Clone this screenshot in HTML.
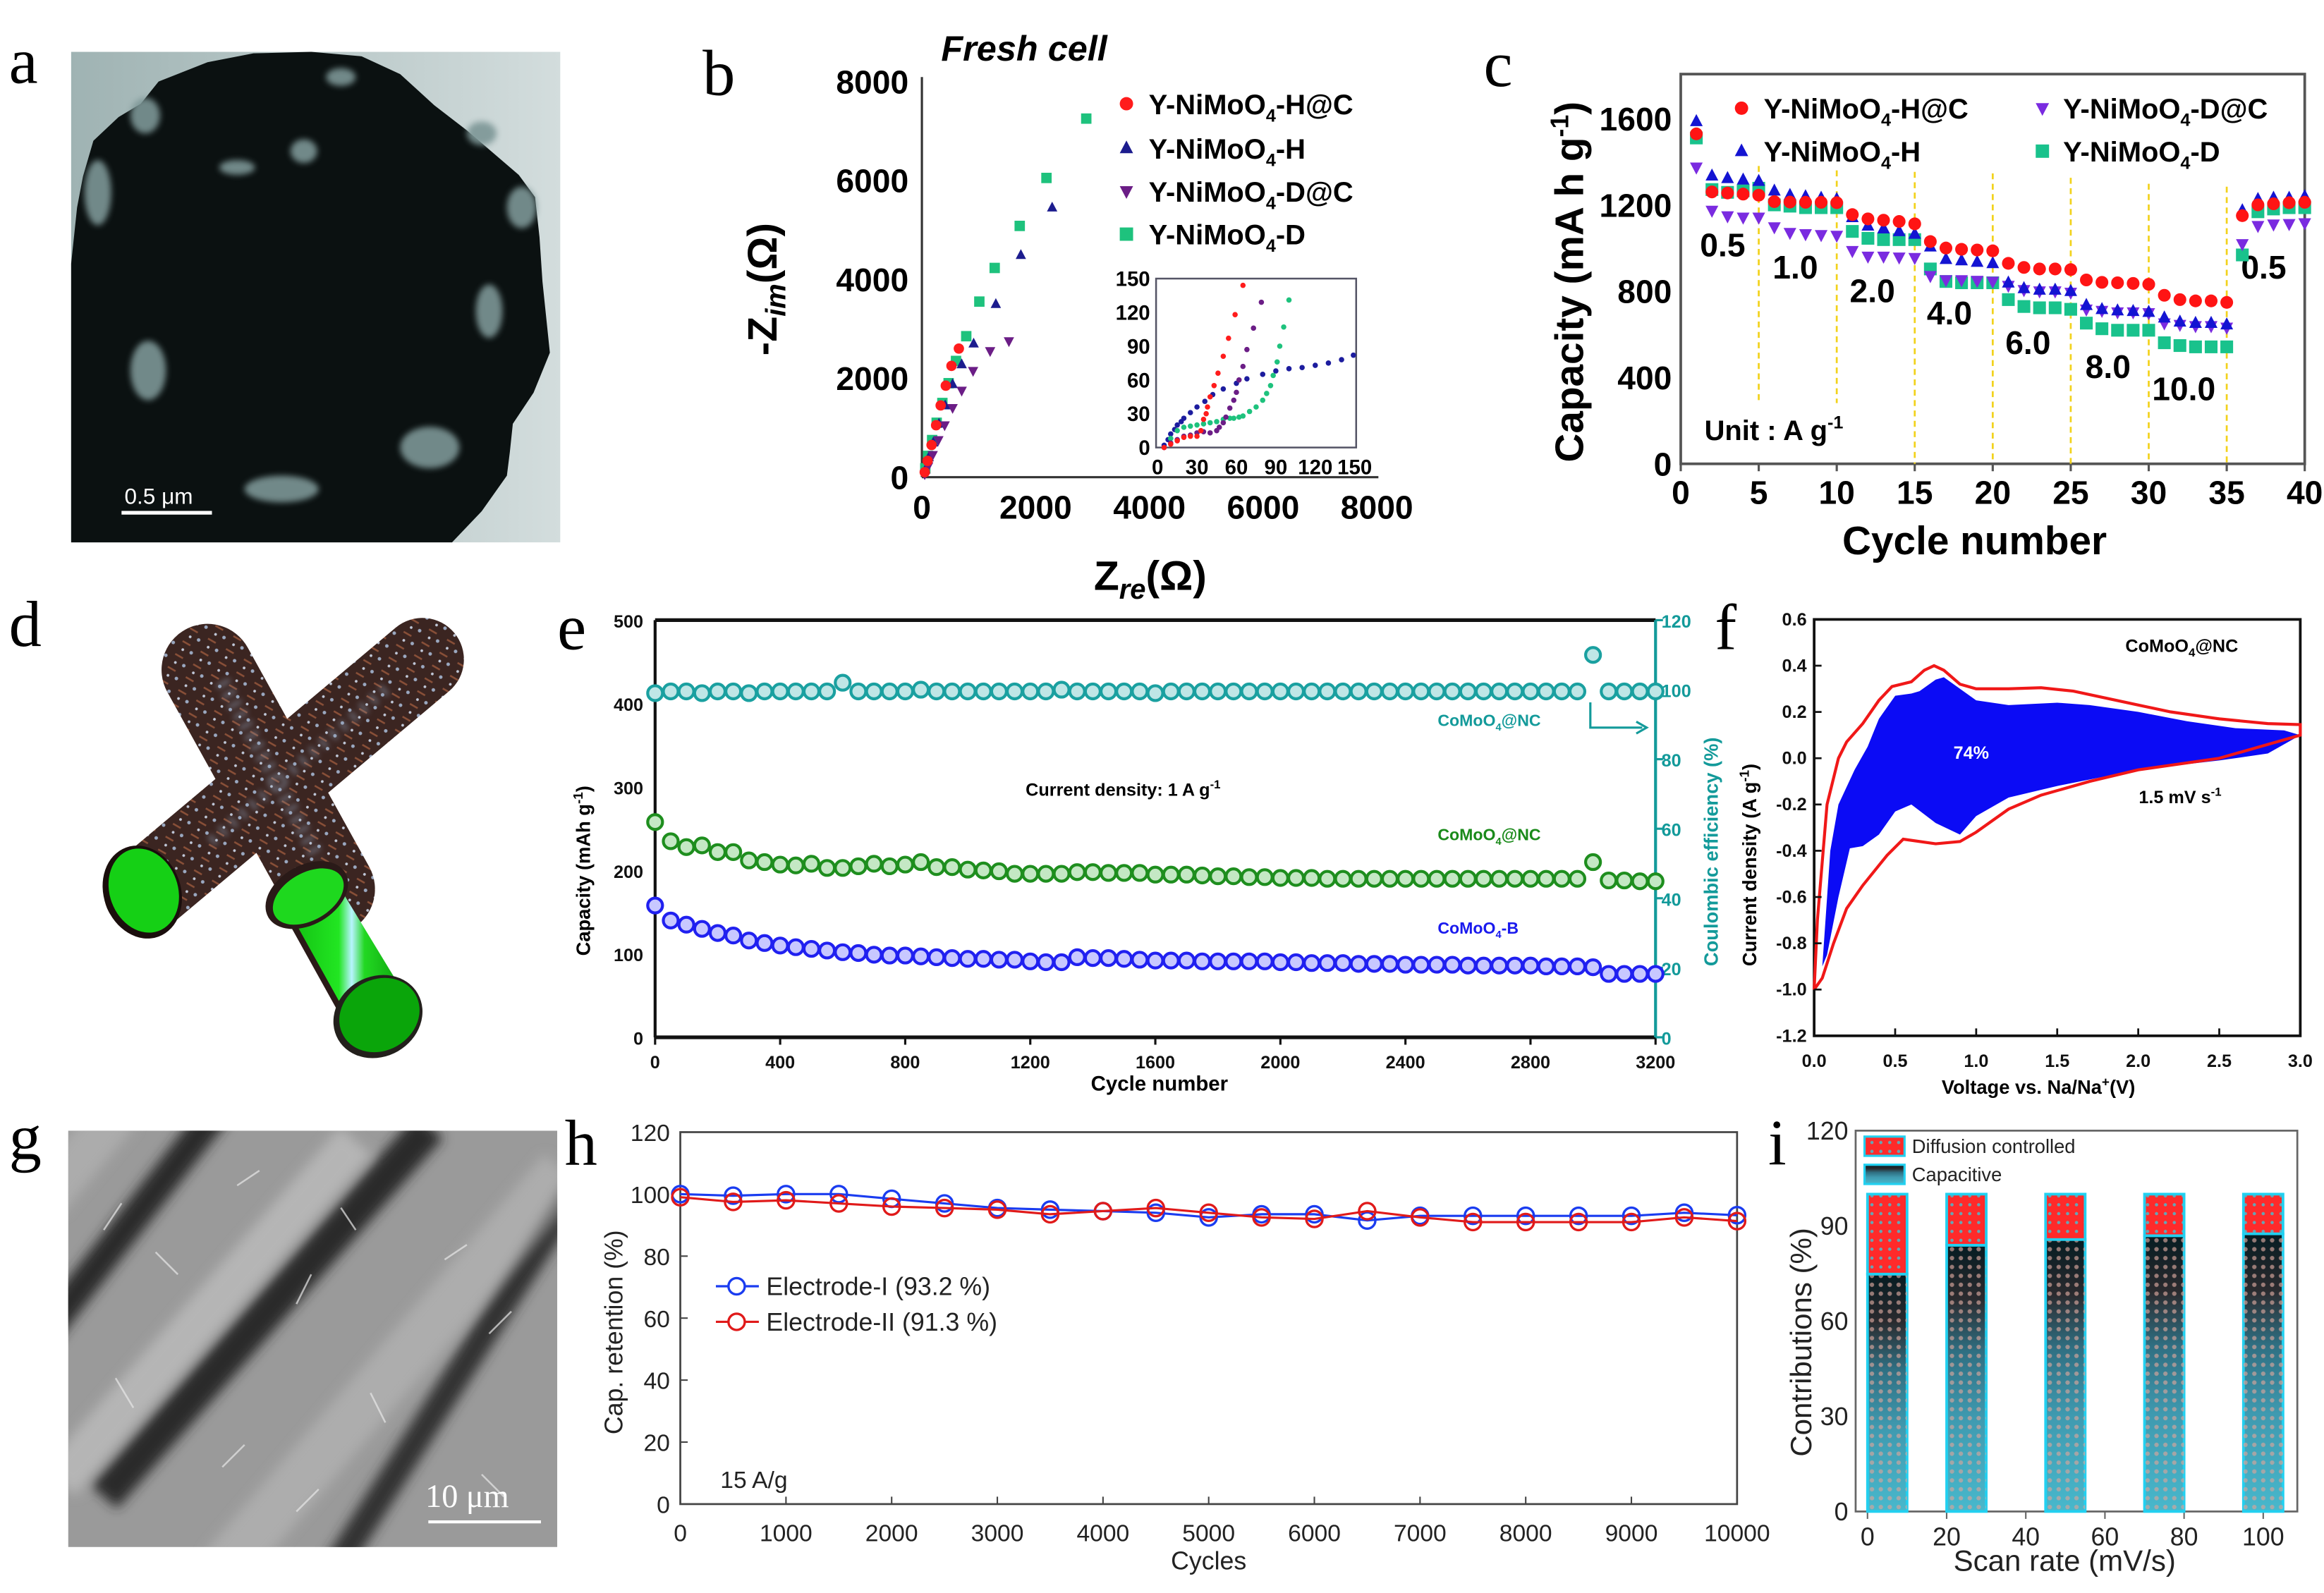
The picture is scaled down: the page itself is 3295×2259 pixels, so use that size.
<!DOCTYPE html>
<html><head><meta charset="utf-8">
<style>
html,body{margin:0;padding:0;background:#fff;}
svg{display:block;}
text{font-family:"Liberation Sans",Arial,sans-serif;}
.serif{font-family:"Liberation Serif","Times New Roman",serif;}
</style></head>
<body>
<svg id="fig" xmlns="http://www.w3.org/2000/svg" width="3295" height="2259" viewBox="0 0 1568 1075" preserveAspectRatio="none">
<defs>
  <linearGradient id="capGrad" x1="0" y1="0" x2="0" y2="1">
    <stop offset="0" stop-color="#061c22"/>
    <stop offset="0.2" stop-color="#2a2a2e"/>
    <stop offset="0.4" stop-color="#2f6f82"/>
    <stop offset="0.65" stop-color="#3f9ab0"/>
    <stop offset="1" stop-color="#48b8cc"/>
  </linearGradient>
  <pattern id="dotsPink" width="6" height="6" patternUnits="userSpaceOnUse">
    <circle cx="3" cy="3" r="1.5" fill="#d4a49c" opacity="0.9"/>
  </pattern>
  <pattern id="dotsCyan" width="6" height="6" patternUnits="userSpaceOnUse">
    <rect width="6" height="6" fill="#ff2a2a"/>
    <circle cx="3" cy="3" r="1.1" fill="#3fc6d8" opacity="0.8"/>
  </pattern>
  <pattern id="tubeTex" width="14" height="10" patternUnits="userSpaceOnUse" patternTransform="rotate(30)">
    <rect width="14" height="10" fill="#3b2521"/>
    <line x1="1" y1="3" x2="7" y2="3" stroke="#8a5038" stroke-width="1.2"/>
    <circle cx="10" cy="7" r="1.2" fill="#9aa8c0"/>
    <circle cx="4" cy="8" r="0.9" fill="#c0c8d8"/>
  </pattern>
  <linearGradient id="bgA" x1="0" y1="0" x2="1" y2="0">
    <stop offset="0" stop-color="#9fb3b3"/><stop offset="1" stop-color="#d3dddd"/>
  </linearGradient>
  <linearGradient id="greenCyl" x1="0" y1="0" x2="1" y2="0">
    <stop offset="0" stop-color="#0fb80f"/><stop offset="0.45" stop-color="#22e622"/>
    <stop offset="0.55" stop-color="#b8f4ff"/><stop offset="0.65" stop-color="#22d822"/>
    <stop offset="1" stop-color="#0a9a0a"/>
  </linearGradient>
  <filter id="blur1"><feGaussianBlur stdDeviation="2"/></filter>
  <filter id="blur3"><feGaussianBlur stdDeviation="4"/></filter>
</defs>

<g class="serif" font-size="44" fill="#000">
  <text x="6" y="56" class="serif">a</text>
  <text x="474" y="64" class="serif">b</text>
  <text x="1001" y="58" class="serif">c</text>
  <text x="6" y="436" class="serif">d</text>
  <text x="376" y="438" class="serif">e</text>
  <text x="1157" y="438" class="serif">f</text>
  <text x="6" y="782" class="serif">g</text>
  <text x="381" y="786" class="serif">h</text>
  <text x="1193" y="786" class="serif">i</text>
</g>

<g>
  <rect x="48" y="35" width="330" height="331" fill="url(#bgA)"/>
  <path d="M107,55 L140,42 L171,36 L210,35 L244,38 L270,50 L293,71 L315,88 L329,100 L350,118 L361,133 L364,160 L366,190 L371,238 L360,265 L346,286 L344,305 L342,321 L325,345 L305,366 L48,366 L48,178 L52,140 L56,119 L63,95 L80,79 L95,70 Z" fill="#0b1111"/>
  <g fill="#7d9696" filter="url(#blur1)" opacity="0.9">
    <ellipse cx="66" cy="130" rx="9" ry="22"/>
    <ellipse cx="100" cy="250" rx="12" ry="20"/>
    <ellipse cx="205" cy="102" rx="9" ry="8"/>
    <ellipse cx="160" cy="113" rx="12" ry="5"/>
    <ellipse cx="190" cy="330" rx="25" ry="9"/>
    <ellipse cx="290" cy="302" rx="20" ry="14"/>
    <ellipse cx="330" cy="210" rx="9" ry="18"/>
    <ellipse cx="352" cy="140" rx="10" ry="14"/>
    <ellipse cx="325" cy="90" rx="10" ry="8"/>
    <ellipse cx="230" cy="52" rx="10" ry="6"/>
    <ellipse cx="98" cy="78" rx="10" ry="12"/>
  </g>
  <line x1="82" y1="346" x2="143" y2="346" stroke="#fff" stroke-width="2.5"/>
  <text x="84" y="340" font-size="15" fill="#fff">0.5 μm</text>
</g>

<g>
  <line x1="285" y1="445" x2="98" y2="602" stroke="url(#tubeTex)" stroke-width="56" stroke-linecap="round"/>
  <ellipse cx="96" cy="602" rx="26" ry="32" transform="rotate(-20 96 602)" fill="#1a0e0c"/>
  <ellipse cx="97" cy="601" rx="23" ry="29" transform="rotate(-20 97 601)" fill="#15d015"/>
  <line x1="140" y1="452" x2="222" y2="600" stroke="url(#tubeTex)" stroke-width="62" stroke-linecap="round"/>
  <g opacity="0.55" filter="url(#blur1)">
    <line x1="150" y1="460" x2="215" y2="580" stroke="#8fa0b8" stroke-width="10" stroke-dasharray="3 5"/>
    <line x1="260" y1="465" x2="140" y2="570" stroke="#8fa0b8" stroke-width="8" stroke-dasharray="3 6"/>
  </g>
  <path d="M190,615 L225,592 L276,676 L240,698 Z" fill="url(#greenCyl)"/>
  <line x1="190" y1="610" x2="240" y2="700" stroke="#2a1a18" stroke-width="4"/>
  <ellipse cx="207" cy="604" rx="30" ry="20" transform="rotate(-30 207 604)" fill="#2a1a18"/>
  <ellipse cx="208" cy="605" rx="26" ry="16" transform="rotate(-30 208 605)" fill="#1ed81e"/>
  <ellipse cx="255" cy="686" rx="31" ry="27" transform="rotate(-30 255 686)" fill="#23201c"/>
  <ellipse cx="256" cy="685" rx="28" ry="24" transform="rotate(-30 256 685)" fill="#0aa50a"/>
</g>

<g>
  <clipPath id="clipG"><rect x="46" y="763" width="330" height="281"/></clipPath>
  <g clip-path="url(#clipG)">
    <rect x="46" y="763" width="330" height="281" fill="#9a9a9a"/>
    <g filter="url(#blur3)">
      <line x1="30" y1="900" x2="150" y2="745" stroke="#2a2a2a" stroke-width="20"/>
      <line x1="70" y1="1010" x2="290" y2="760" stroke="#2c2c2c" stroke-width="24"/>
      <line x1="225" y1="1060" x2="390" y2="800" stroke="#303030" stroke-width="18"/>
      <line x1="40" y1="1000" x2="240" y2="770" stroke="#c8c8c8" stroke-width="28" opacity="0.6"/>
      <line x1="150" y1="1060" x2="380" y2="790" stroke="#c0c0c0" stroke-width="34" opacity="0.5"/>
      <line x1="30" y1="810" x2="80" y2="750" stroke="#b8b8b8" stroke-width="30" opacity="0.6"/>
    </g>
    <g stroke="#e8e8e8" stroke-width="1.2" opacity="0.7">
      <line x1="70" y1="830" x2="82" y2="812"/><line x1="120" y1="860" x2="105" y2="845"/>
      <line x1="160" y1="800" x2="175" y2="790"/><line x1="200" y1="880" x2="210" y2="860"/>
      <line x1="240" y1="830" x2="230" y2="815"/><line x1="300" y1="850" x2="315" y2="840"/>
      <line x1="90" y1="950" x2="78" y2="930"/><line x1="150" y1="990" x2="165" y2="975"/>
      <line x1="260" y1="960" x2="250" y2="940"/><line x1="330" y1="900" x2="345" y2="885"/>
      <line x1="200" y1="1020" x2="215" y2="1005"/><line x1="340" y1="1010" x2="325" y2="995"/>
    </g>
  </g>
  <line x1="289" y1="1027" x2="365" y2="1027" stroke="#fff" stroke-width="2"/>
  <text x="287" y="1017" class="serif" font-size="22" fill="#fff">10 μm</text>
</g>

<g font-weight="bold" fill="#000">
  <text x="635" y="41" font-size="24" font-style="italic">Fresh cell</text>
  <text x="0" y="0" font-size="28" transform="translate(524,240) rotate(-90)">-Z<tspan font-size="19" font-style="italic" dy="6">im</tspan><tspan dy="-6">(Ω)</tspan></text>
  <text x="738" y="398" font-size="28">Z<tspan font-size="19" font-style="italic" dy="6">re</tspan><tspan dy="-6">(Ω)</tspan></text>
  <g font-size="19">
    <text x="775" y="77">Y-NiMoO<tspan font-size="12" dy="5">4</tspan><tspan dy="-5">-H@C</tspan></text>
    <text x="775" y="107">Y-NiMoO<tspan font-size="12" dy="5">4</tspan><tspan dy="-5">-H</tspan></text>
    <text x="775" y="136">Y-NiMoO<tspan font-size="12" dy="5">4</tspan><tspan dy="-5">-D@C</tspan></text>
    <text x="775" y="165">Y-NiMoO<tspan font-size="12" dy="5">4</tspan><tspan dy="-5">-D</tspan></text>
  </g>
</g>

<g font-weight="bold" fill="#000">
  <text x="0" y="0" font-size="27" transform="translate(1068,312) rotate(-90)">Capacity (mA h g<tspan font-size="17" dy="-10">-1</tspan><tspan dy="10">)</tspan></text>
  <text x="1243" y="374" font-size="27">Cycle number</text>
  <g font-size="19">
    <text x="1190" y="80">Y-NiMoO<tspan font-size="12" dy="5">4</tspan><tspan dy="-5">-H@C</tspan></text>
    <text x="1190" y="109">Y-NiMoO<tspan font-size="12" dy="5">4</tspan><tspan dy="-5">-H</tspan></text>
    <text x="1392" y="80">Y-NiMoO<tspan font-size="12" dy="5">4</tspan><tspan dy="-5">-D@C</tspan></text>
    <text x="1392" y="109">Y-NiMoO<tspan font-size="12" dy="5">4</tspan><tspan dy="-5">-D</tspan></text>
    <text x="1150" y="297">Unit : A g<tspan font-size="12" dy="-8">-1</tspan></text>
  </g>
  <g font-size="22">
    <text x="1147" y="173">0.5</text>
    <text x="1196" y="188">1.0</text>
    <text x="1248" y="204">2.0</text>
    <text x="1300" y="219">4.0</text>
    <text x="1353" y="239">6.0</text>
    <text x="1407" y="255">8.0</text>
    <text x="1452" y="270">10.0</text>
    <text x="1512" y="188">0.5</text>
  </g>
</g>

<g font-weight="bold" font-size="12">
  <text x="0" y="0" font-size="13" transform="translate(398,645) rotate(-90)" fill="#000">Capacity (mAh g<tspan font-size="9" dy="-5">-1</tspan><tspan dy="5">)</tspan></text>
  <text x="0" y="0" font-size="13" transform="translate(1159,652) rotate(-90)" fill="#139a9a">Coulombic efficiency (%)</text>
  <text x="736" y="736" font-size="14" fill="#000">Cycle number</text>
  <text x="692" y="537" fill="#000">Current density: 1 A g<tspan font-size="8" dy="-5">-1</tspan></text>
  <text x="970" y="490" font-size="11" fill="#139a9a">CoMoO<tspan font-size="7" dy="3">4</tspan><tspan dy="-3">@NC</tspan></text>
  <text x="970" y="567" font-size="11" fill="#1a8a1a">CoMoO<tspan font-size="7" dy="3">4</tspan><tspan dy="-3">@NC</tspan></text>
  <text x="970" y="630" font-size="11" fill="#1a1aee">CoMoO<tspan font-size="7" dy="3">4</tspan><tspan dy="-3">-B</tspan></text>
  <path d="M1073,474 L1073,491 L1108,491" fill="none" stroke="#139a9a" stroke-width="1.5"/>
  <path d="M1104,487 L1111,491 L1104,495" fill="none" stroke="#139a9a" stroke-width="1.5"/>
</g>

<g font-weight="bold" fill="#000">
  <text x="0" y="0" font-size="13" transform="translate(1185,652) rotate(-90)">Current density (A g<tspan font-size="9" dy="-5">-1</tspan><tspan dy="5">)</tspan></text>
  <text x="1310" y="738" font-size="13">Voltage vs. Na/Na<tspan font-size="9" dy="-5">+</tspan><tspan dy="5">(V)</tspan></text>
  <text x="1434" y="440" font-size="12">CoMoO<tspan font-size="8" dy="3">4</tspan><tspan dy="-3">@NC</tspan></text>
  <text x="1443" y="542" font-size="12">1.5 mV s<tspan font-size="8" dy="-5">-1</tspan></text>
</g>

<g fill="#222">
  <text x="0" y="0" font-size="17" transform="translate(420,968) rotate(-90)">Cap. retention (%)</text>
  <text x="790" y="1059" font-size="17">Cycles</text>
  <text x="486" y="1004" font-size="16">15 A/g</text>
  <text x="517" y="874" font-size="17">Electrode-I  (93.2 %)</text>
  <text x="517" y="898" font-size="17">Electrode-II (91.3 %)</text>
</g>

<g fill="#222">
  <text x="0" y="0" font-size="20" transform="translate(1222,983) rotate(-90)">Contributions (%)</text>
  <text x="1318" y="1060" font-size="20">Scan rate (mV/s)</text>
  <text x="1290" y="778" font-size="13">Diffusion controlled</text>
  <text x="1290" y="797" font-size="13">Capacitive</text>
</g>

<g id="plots"></g>
</svg>

<script>
// Panel b: Nyquist (ohm)
const bRedX = [650, 520, 420, 330, 250, 170, 100, 50];
const bRedY = [2600, 2250, 1850, 1450, 1050, 650, 330, 100];
const bBlueX = [2290, 1740, 1300, 910, 700, 540, 410, 300, 200, 120, 60];
const bBlueY = [5450, 4490, 3500, 2700, 2280, 1880, 1450, 1080, 700, 400, 150];
const bPurpleX = [1530, 1200, 900, 700, 540, 400, 290, 190, 110, 50];
const bPurpleY = [2750, 2550, 2150, 1750, 1400, 1050, 750, 450, 220, 60];
const bGreenX = [2890, 2190, 1720, 1280, 1010, 780, 600, 470, 360, 260, 180, 110, 60];
const bGreenY = [7250, 6050, 5080, 4230, 3550, 2850, 2350, 1900, 1500, 1100, 750, 430, 180];
const bTicks = [0, 2000, 4000, 6000, 8000];
const inRedX = [5, 10, 15, 20, 25, 30, 33, 35, 37, 38, 40, 43, 46, 50, 54, 59, 65];
const inRedY = [0, 3, 6, 9, 10, 10, 15, 25, 30, 36, 45, 55, 66, 81, 97, 118, 144];
const inPurpleX = [5, 10, 15, 20, 25, 30, 35, 40, 45, 47, 50, 52, 55, 58, 60, 62, 65, 68, 73, 79];
const inPurpleY = [0, 4, 7, 10, 11, 13, 14, 13, 15, 18, 22, 27, 35, 42, 49, 60, 72, 87, 106, 129];
const inGreenX = [10, 15, 20, 25, 30, 35, 40, 45, 50, 55, 58, 62, 65, 70, 75, 80, 83, 86, 88, 91, 93, 96, 100];
const inGreenY = [8, 15, 18, 19, 20, 21, 22, 23, 25, 26, 26, 27, 28, 32, 36, 42, 48, 55, 64, 76, 90, 107, 131];
const inBlueX = [5, 8, 10, 13, 15, 18, 20, 25, 30, 36, 42, 50, 60, 68, 80, 90, 100, 110, 120, 130, 140, 149];
const inBlueY = [2, 7, 12, 16, 20, 23, 26, 31, 36, 41, 47, 52, 57, 61, 65, 68, 70, 71, 73, 75, 78, 82];
const inTicks = [0, 30, 60, 90, 120, 150];

// Panel c
const cCycles = [1,2,3,4,5,6,7,8,9,10,11,12,13,14,15,16,17,18,19,20,21,22,23,24,25,26,27,28,29,30,31,32,33,34,35,36,37,38,39,40];
const cRed = [1529,1260,1255,1250,1245,1215,1213,1212,1212,1210,1155,1135,1129,1123,1112,1030,1000,994,991,987,929,910,903,903,900,852,841,839,836,832,781,761,755,755,748,1150,1200,1205,1210,1212];
const cBlue = [1587,1335,1323,1316,1310,1265,1245,1239,1232,1226,1142,1103,1090,1077,1065,1006,948,942,935,929,839,813,806,806,800,735,716,710,707,703,677,658,652,652,645,1174,1226,1232,1232,1239];
const cPurple = [1374,1174,1148,1142,1142,1097,1071,1065,1061,1058,987,961,961,957,955,871,852,852,849,845,826,806,800,800,794,716,710,703,703,699,652,645,639,639,632,1019,1103,1110,1112,1116];
const cGreen = [1510,1271,1258,1265,1277,1200,1194,1187,1187,1187,1077,1045,1039,1039,1039,903,845,839,839,839,761,729,723,723,716,652,626,619,619,619,561,548,542,542,542,968,1168,1181,1187,1187];
const cRateChanges = [5, 10, 15, 20, 25, 30, 35];
const cXTicks = [0, 5, 10, 15, 20, 25, 30, 35, 40];
const cYTicks = [0, 400, 800, 1200, 1600];

// Panel e
const eGreen = [258,235,228,230,222,222,212,210,207,206,208,203,203,205,208,205,207,210,204,204,201,200,199,196,196,196,196,198,198,197,197,197,195,195,195,194,193,193,192,192,191,191,191,190,190,190,190,190,190,190,190,190,190,190,190,190,190,190,190,190,210,188,188,187,187];
const eBlue = [158,140,135,130,125,122,116,113,110,108,106,104,102,101,99,98,98,97,96,95,94,94,93,93,91,90,90,96,95,95,94,93,92,92,92,91,91,91,91,91,90,90,89,89,89,88,88,88,87,87,87,87,86,86,86,86,86,85,85,85,84,76,76,76,76];
const eCE = [99,99.5,99.5,99,99.5,99.5,99,99.5,99.5,99.5,99.5,99.5,102,99.5,99.5,99.5,99.5,100,99.5,99.5,99.5,99.5,99.5,99.5,99.5,99.5,100,99.5,99.5,99.5,99.5,99.5,99,99.5,99.5,99.5,99.5,99.5,99.5,99.5,99.5,99.5,99.5,99.5,99.5,99.5,99.5,99.5,99.5,99.5,99.5,99.5,99.5,99.5,99.5,99.5,99.5,99.5,99.5,99.5,110,99.5,99.5,99.5,99.5];
const eCycleStep = 50;
const eXTicks = [0, 400, 800, 1200, 1600, 2000, 2400, 2800, 3200];
const eYTicks = [0, 100, 200, 300, 400, 500];
const eY2Ticks = [0, 20, 40, 60, 80, 100, 120];

// Panel f
const fRedV = [0.0,0.02,0.08,0.15,0.2,0.3,0.4,0.48,0.6,0.68,0.74,0.8,0.9,1.0,1.2,1.4,1.6,1.8,2.0,2.2,2.5,2.8,3.0,3.0,2.5,2.0,1.7,1.4,1.2,1.0,0.9,0.75,0.55,0.45,0.3,0.2,0.12,0.05,0.0];
const fRedI = [-1.0,-0.7,-0.2,0.0,0.07,0.15,0.25,0.31,0.33,0.38,0.40,0.38,0.32,0.30,0.30,0.305,0.29,0.26,0.23,0.2,0.17,0.15,0.145,0.1,0.0,-0.05,-0.1,-0.16,-0.22,-0.32,-0.36,-0.37,-0.35,-0.42,-0.55,-0.65,-0.8,-0.95,-1.0];
const fBlueV = [0.05,0.1,0.15,0.25,0.33,0.4,0.5,0.6,0.65,0.75,0.8,0.9,1.0,1.2,1.5,1.7,2.0,2.3,2.6,2.9,3.0,2.8,2.5,2.0,1.5,1.2,1.0,0.9,0.75,0.6,0.5,0.4,0.3,0.22,0.15,0.08];
const fBlueI = [-0.9,-0.4,-0.2,-0.05,0.05,0.17,0.27,0.28,0.29,0.34,0.35,0.30,0.25,0.23,0.24,0.23,0.2,0.16,0.13,0.12,0.1,0.02,-0.01,-0.05,-0.12,-0.17,-0.25,-0.33,-0.28,-0.2,-0.23,-0.33,-0.38,-0.39,-0.6,-0.85];
const fXTicks = [0.0, 0.5, 1.0, 1.5, 2.0, 2.5, 3.0];
const fYTicks = [0.6, 0.4, 0.2, 0.0, -0.2, -0.4, -0.6, -0.8, -1.0, -1.2];

// Panel h
const hCycles = [0,500,1000,1500,2000,2500,3000,3500,4000,4500,5000,5500,6000,6500,7000,7500,8000,8500,9000,9500,10000];
const hElectrode1 = [100,99.5,100,100,98.5,97,95.5,95,94.5,94,92.5,93.5,93.5,91.5,93,93,93,93,93,94,93.2];
const hElectrode2 = [99,97.5,98,97,96,95.5,95,93.5,94.5,95.5,94,92.5,92,94.5,92.5,91,91,91,91,92.5,91.3];
const hXTicks = [0,1000,2000,3000,4000,5000,6000,7000,8000,9000,10000];
const hYTicks = [0,20,40,60,80,100,120];

// Panel i
const iScanRates = [5, 25, 50, 75, 100];
const iCapacitive = [74.8, 83.9, 85.7, 86.9, 87.5];
const iDiffusion = [25.2, 16.1, 14.3, 13.1, 12.5];
const iXTicks = [0, 20, 40, 60, 80, 100];
const iYTicks = [0, 30, 60, 90, 120];

const NS = 'http://www.w3.org/2000/svg';
const root = document.getElementById('plots');
function mk(parent, tag, attrs) {
  const e = document.createElementNS(NS, tag);
  for (const k in attrs) e.setAttribute(k, attrs[k]);
  parent.appendChild(e);
  return e;
}
function marker(parent, type, x, y, s, fill, stroke) {
  let e;
  if (type === 'circle') e = mk(parent, 'circle', {cx: x, cy: y, r: s, fill: fill, stroke: stroke || 'none'});
  else if (type === 'square') e = mk(parent, 'rect', {x: x - s, y: y - s, width: 2 * s, height: 2 * s, fill: fill});
  else if (type === 'up') e = mk(parent, 'path', {d: `M${x},${y - s * 1.15} L${x + s},${y + s * 0.75} L${x - s},${y + s * 0.75} Z`, fill: fill});
  else e = mk(parent, 'path', {d: `M${x},${y + s * 1.15} L${x + s},${y - s * 0.75} L${x - s},${y - s * 0.75} Z`, fill: fill});
  return e;
}
function label(parent, x, y, str, size, anchor, weight, color) {
  const t = mk(parent, 'text', {x: x, y: y, 'font-size': size, 'text-anchor': anchor, 'font-weight': weight, fill: color});
  t.textContent = str;
  return t;
}

// PANEL B
const gB = mk(root, 'g', {});


const bx = v => 622 + v / 8000 * 307;
const by = v => 322 - v / 8000 * 267;
const bAxY = mk(gB, 'line', {x1: 622, y1: 52, x2: 622, y2: 322, stroke: '#333', 'stroke-width': 1.5});


const bAxX = mk(gB, 'line', {x1: 622, y1: 322, x2: 930, y2: 322, stroke: '#333', 'stroke-width': 1.5});


bTicks.forEach(v => {
  const ty = label(gB, 613, by(v) + 8, String(v), 22, 'end', 'bold', '#000');
  
  
  const tx = label(gB, bx(v), 350, String(v), 22, 'middle', 'bold', '#000');
  
  
});
const bSeries = [
  {xs: bGreenX, ys: bGreenY, type: 'square', c: '#1ec27d', n: 'b-point-d'},
  {xs: bBlueX, ys: bBlueY, type: 'up', c: '#1c1c8e', n: 'b-point-h'},
  {xs: bPurpleX, ys: bPurpleY, type: 'down', c: '#6b1d86', n: 'b-point-dc'},
  {xs: bRedX, ys: bRedY, type: 'circle', c: '#ff1c1c', n: 'b-point-hc'}
];
bSeries.forEach(s => {
  s.xs.forEach((xv, i) => {
    const m = marker(gB, s.type, bx(xv), by(s.ys[i]), 3.5, s.c);
    
    
  });
});
[['circle', '#ff1c1c', 70], ['up', '#1c1c8e', 100], ['down', '#6b1d86', 129], ['square', '#1ec27d', 158]].forEach(l => {
  const m = marker(gB, l[0], 760, l[2], 4.5, l[1]);
  
  
});
const ix = v => 781 + v / 150 * 133;
const iy = v => 302 - v / 150 * 114;
const inBox = mk(gB, 'rect', {x: 780, y: 188, width: 135, height: 114, fill: '#fff', stroke: '#556', 'stroke-width': 1.2});


inTicks.forEach(v => {
  const a = label(gB, 776, iy(v) + 5, String(v), 14, 'end', 'bold', '#000');
  
  
  const b = label(gB, ix(v), 320, String(v), 14, 'middle', 'bold', '#000');
  
  
});
[{xs: inBlueX, ys: inBlueY, c: '#1c1c9e', n: 'b-inset-point-h'},
 {xs: inGreenX, ys: inGreenY, c: '#1ec27d', n: 'b-inset-point-d'},
 {xs: inPurpleX, ys: inPurpleY, c: '#6b1d86', n: 'b-inset-point-dc'},
 {xs: inRedX, ys: inRedY, c: '#ff1c1c', n: 'b-inset-point-hc'}].forEach(s => {
  s.xs.forEach((xv, i) => {
    const m = marker(gB, 'circle', ix(xv), iy(s.ys[i]), 1.8, s.c);
    
    
  });
});

// PANEL C
const gC = mk(root, 'g', {});


const cx = v => 1134 + v / 40 * 421;
const cy = v => 313 - v / 1600 * 233;
const cFrame = mk(gC, 'rect', {x: 1134, y: 50, width: 421, height: 263, fill: 'none', stroke: '#555', 'stroke-width': 1.8});


const cLineTops = [112, 115, 116, 117, 120, 124, 126];
cRateChanges.forEach((k, i) => {
  const l = mk(gC, 'line', {x1: cx(k), x2: cx(k), y1: cLineTops[i], y2: (k <= 10 ? 272 : 313), stroke: '#f2d21c', 'stroke-width': 1.3, 'stroke-dasharray': '4 3'});
  
  
});
cXTicks.forEach(v => {
  const t = label(gC, cx(v), 340, String(v), 22, 'middle', 'bold', '#000');
  
  
  const tk = mk(gC, 'line', {x1: cx(v), x2: cx(v), y1: 313, y2: 318, stroke: '#555', 'stroke-width': 1.5});
  
  
});
cYTicks.forEach(v => {
  const t = label(gC, 1128, cy(v) + 8, String(v), 22, 'end', 'bold', '#000');
  
  
});
[{v: cGreen, t: 'square', c: '#19c28c', n: 'c-point-d'},
 {v: cPurple, t: 'down', c: '#7a2be0', n: 'c-point-dc'},
 {v: cBlue, t: 'up', c: '#1414d2', n: 'c-point-h'},
 {v: cRed, t: 'circle', c: '#ff1414', n: 'c-point-hc'}].forEach(s => {
  s.v.forEach((val, i) => {
    const m = marker(gC, s.t, cx(cCycles[i]), cy(val), 4.3, s.c);
    
    
  });
});
[['circle', '#ff1414', 1175, 73], ['up', '#1414d2', 1175, 102], ['down', '#7a2be0', 1378, 73], ['square', '#19c28c', 1378, 102]].forEach(l => {
  const m = marker(gC, l[0], l[2], l[3], 4.5, l[1]);
  
  
});

// PANEL E
const gE = mk(root, 'g', {});


const ex = v => 442 + v / 3200 * 675;
const eyL = v => 700 - v / 500 * 281.5;
const eyR = v => 700 - v / 120 * 281.5;
const eTop = mk(gE, 'line', {x1: 442, y1: 418.5, x2: 1117, y2: 418.5, stroke: '#111', 'stroke-width': 2.5});


const eBot = mk(gE, 'line', {x1: 442, y1: 700, x2: 1117, y2: 700, stroke: '#111', 'stroke-width': 2.5});


const eLeft = mk(gE, 'line', {x1: 442, y1: 418.5, x2: 442, y2: 700, stroke: '#111', 'stroke-width': 2});


const eRight = mk(gE, 'line', {x1: 1117, y1: 418.5, x2: 1117, y2: 700, stroke: '#139a9a', 'stroke-width': 2});


eXTicks.forEach(v => {
  const t = label(gE, ex(v), 721, String(v), 12, 'middle', 'bold', '#111');
  
  
  const tk = mk(gE, 'line', {x1: ex(v), x2: ex(v), y1: 700, y2: 705, stroke: '#111', 'stroke-width': 1.5});
  
  
});
eYTicks.forEach(v => {
  const t = label(gE, 434, eyL(v) + 5, String(v), 12, 'end', 'bold', '#111');
  
  
});
eY2Ticks.forEach(v => {
  const t = label(gE, 1121, eyR(v) + 5, String(v), 12, 'start', 'bold', '#139a9a');
  
  
  const tk = mk(gE, 'line', {x1: 1117, x2: 1122, y1: eyR(v), y2: eyR(v), stroke: '#139a9a', 'stroke-width': 1.5});
  
  
});
[{v: eCE, f: eyR, c: '#1aa0a0', fill: '#bfe6e6', n: 'e-point-ce'},
 {v: eGreen, f: eyL, c: '#1e8e1e', fill: '#c4e8c4', n: 'e-point-nc'},
 {v: eBlue, f: eyL, c: '#2020f0', fill: '#c8c8ff', n: 'e-point-b'}].forEach(s => {
  s.v.forEach((val, i) => {
    const m = marker(gE, 'circle', ex(i * eCycleStep), s.f(val), 5, s.fill, s.c);
    m.setAttribute('stroke-width', 2);
    
    
  });
});

// PANEL F
const gF = mk(root, 'g', {});


const fx = v => 1224 + v / 3 * 328;
const fy = v => 418 + (0.6 - v) / 1.8 * 281;
const fFrame = mk(gF, 'rect', {x: 1224, y: 418, width: 328, height: 281, fill: 'none', stroke: '#111', 'stroke-width': 1.8});


const fBlueD = fBlueV.map((v, i) => (i ? 'L' : 'M') + fx(v).toFixed(1) + ',' + fy(fBlueI[i]).toFixed(1)).join(' ') + ' Z';
const fBlue = mk(gF, 'path', {d: fBlueD, fill: '#0b0bf5', stroke: 'none'});


const fRedD = fRedV.map((v, i) => (i ? 'L' : 'M') + fx(v).toFixed(1) + ',' + fy(fRedI[i]).toFixed(1)).join(' ');
const fRed = mk(gF, 'path', {d: fRedD, fill: 'none', stroke: '#f01818', 'stroke-width': 2});


const f74 = label(gF, 1330, 512, '74%', 12, 'middle', 'bold', '#fff');


fXTicks.forEach(v => {
  const t = label(gF, fx(v), 720, v.toFixed(1), 12, 'middle', 'bold', '#111');
  
  
  const tk = mk(gF, 'line', {x1: fx(v), x2: fx(v), y1: 699, y2: 694, stroke: '#111', 'stroke-width': 1.3});
  
  
});
fYTicks.forEach(v => {
  const t = label(gF, 1219, fy(v) + 4, v.toFixed(1), 12, 'end', 'bold', '#111');
  
  
  const tk = mk(gF, 'line', {x1: 1224, x2: 1229, y1: fy(v), y2: fy(v), stroke: '#111', 'stroke-width': 1.3});
  
  
});

// PANEL H
const gH = mk(root, 'g', {});


const hx = v => 459 + v / 10000 * 713;
const hy = v => 1015 - v / 120 * 251;
const hFrame = mk(gH, 'rect', {x: 459, y: 764, width: 713, height: 251, fill: 'none', stroke: '#444', 'stroke-width': 1.3});


hXTicks.forEach(v => {
  const t = label(gH, hx(v), 1040, String(v), 16, 'middle', 'normal', '#222');
  
  
  const tk = mk(gH, 'line', {x1: hx(v), x2: hx(v), y1: 1015, y2: 1010, stroke: '#444', 'stroke-width': 1});
  
  
});
hYTicks.forEach(v => {
  const t = label(gH, 452, hy(v) + 6, String(v), 16, 'end', 'normal', '#222');
  
  
  const tk = mk(gH, 'line', {x1: 459, x2: 464, y1: hy(v), y2: hy(v), stroke: '#444', 'stroke-width': 1});
  
  
});
[{v: hElectrode1, c: '#1a3cf0', n: 'electrode-1'}, {v: hElectrode2, c: '#e01a1a', n: 'electrode-2'}].forEach(s => {
  const d = s.v.map((val, i) => (i ? 'L' : 'M') + hx(hCycles[i]).toFixed(1) + ',' + hy(val).toFixed(1)).join(' ');
  const line = mk(gH, 'path', {d: d, fill: 'none', stroke: s.c, 'stroke-width': 1.5});
  
  
  s.v.forEach((val, i) => {
    const m = marker(gH, 'circle', hx(hCycles[i]), hy(val), 5.5, 'none', s.c);
    m.setAttribute('stroke-width', 1.6);
    
    
  });
});
[['#1a3cf0', 868], ['#e01a1a', 892]].forEach(l => {
  const ln = mk(gH, 'line', {x1: 483, x2: 512, y1: l[1], y2: l[1], stroke: l[0], 'stroke-width': 1.5});
  
  
  const m = marker(gH, 'circle', 497, l[1], 5.5, '#fff', l[0]);
  m.setAttribute('stroke-width', 1.6);
  
  
});

// PANEL I
const gI = mk(root, 'g', {});


const ixs = v => 1260 + v / 100 * 267;
const iys = v => 1020 - v / 120 * 257;
const iFrame = mk(gI, 'rect', {x: 1252, y: 763, width: 298, height: 257, fill: 'none', stroke: '#666', 'stroke-width': 1.3});


iXTicks.forEach(v => {
  const t = label(gI, ixs(v), 1043, String(v), 17, 'middle', 'normal', '#222');
  
  
  const tk = mk(gI, 'line', {x1: ixs(v), x2: ixs(v), y1: 1020, y2: 1025, stroke: '#666', 'stroke-width': 1});
  
  
});
iYTicks.forEach(v => {
  const t = label(gI, 1247, iys(v) + 6, String(v), 17, 'end', 'normal', '#222');
  
  
});
const iBarW = 10;
iScanRates.forEach((r, i) => {
  const x0 = ixs(r - iBarW / 2), w = ixs(r + iBarW / 2) - x0;
  const cap = mk(gI, 'rect', {x: x0, y: iys(iCapacitive[i]), width: w, height: iys(0) - iys(iCapacitive[i]), fill: 'url(#capGrad)', stroke: '#22d0f0', 'stroke-width': 1.8});
  
  
  const capDots = mk(gI, 'rect', {x: x0, y: iys(iCapacitive[i]), width: w, height: iys(0) - iys(iCapacitive[i]), fill: 'url(#dotsPink)', opacity: 0.75});
  
  
  const top = iCapacitive[i] + iDiffusion[i];
  const dif = mk(gI, 'rect', {x: x0, y: iys(top), width: w, height: iys(iCapacitive[i]) - iys(top), fill: 'url(#dotsCyan)', stroke: '#22d0f0', 'stroke-width': 1.8});
  
  
});
const legD = mk(gI, 'rect', {x: 1258, y: 767, width: 27, height: 13, fill: 'url(#dotsCyan)', stroke: '#22d0f0', 'stroke-width': 1.5});


const legC = mk(gI, 'rect', {x: 1258, y: 786, width: 27, height: 13, fill: 'url(#capGrad)', stroke: '#22d0f0', 'stroke-width': 1.5});


</script>
</body></html>
